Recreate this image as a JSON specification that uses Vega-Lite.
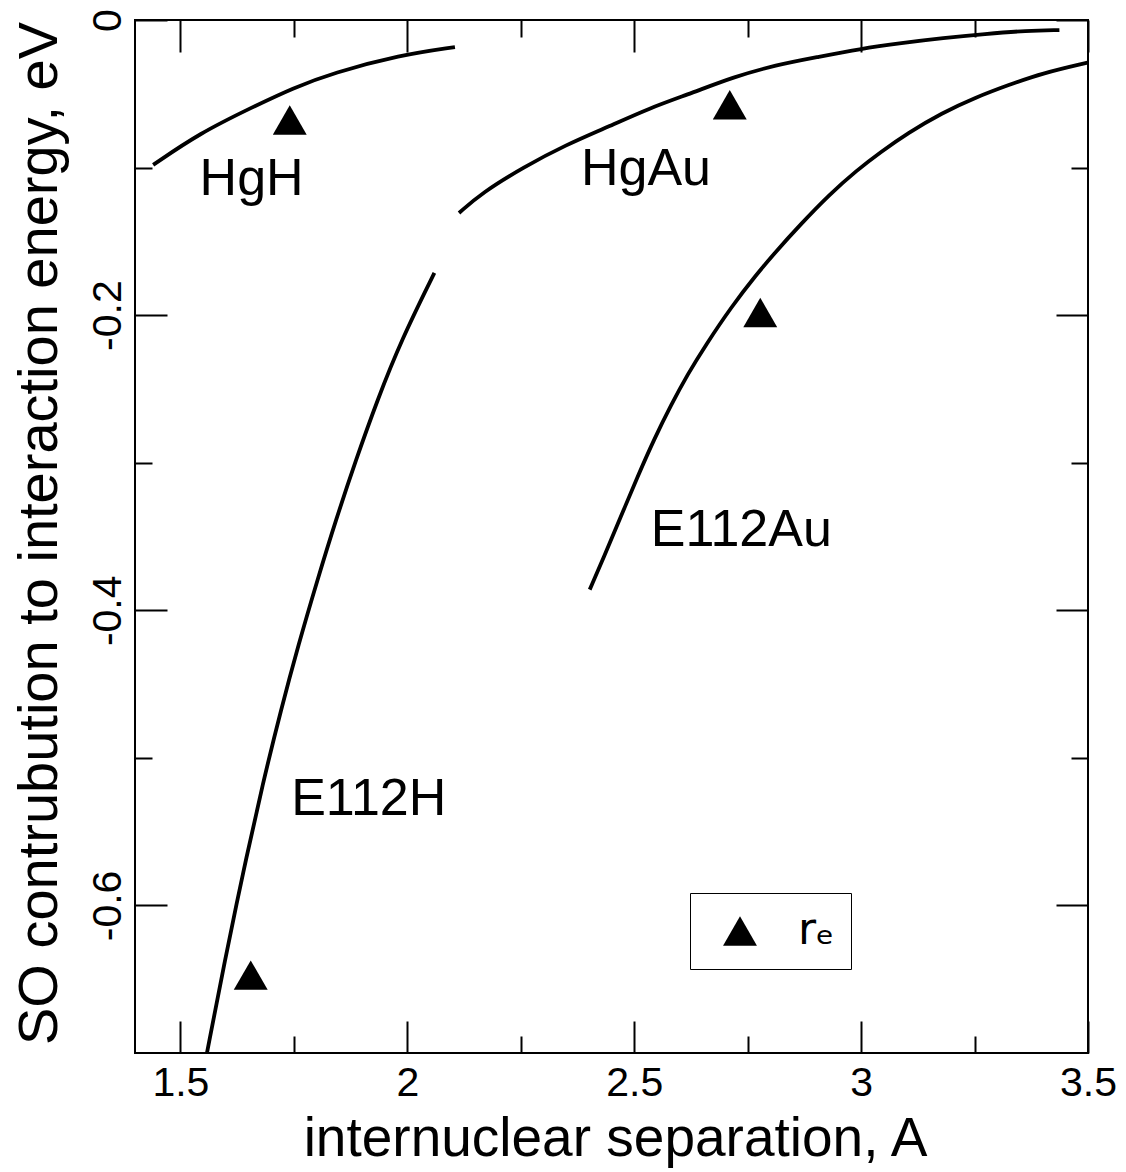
{
  "$schema": "https://vega.github.io/schema/vega-lite/v6.json",
  "width": 953,
  "height": 1033,
  "autosize": {"type": "none"},
  "padding": {"left": 135, "top": 20, "right": 38, "bottom": 119},
  "background": "white",
  "datasets": {
    "curves": [
      {"s": "HgH", "x": 1.440, "y": -0.0982},
      {"s": "HgH", "x": 1.543, "y": -0.0766},
      {"s": "HgH", "x": 1.660, "y": -0.0589},
      {"s": "HgH", "x": 1.748, "y": -0.0461},
      {"s": "HgH", "x": 1.836, "y": -0.0359},
      {"s": "HgH", "x": 1.984, "y": -0.0237},
      {"s": "HgH", "x": 2.105, "y": -0.0183},
      {"s": "HgAu", "x": 2.114, "y": -0.1308},
      {"s": "HgAu", "x": 2.164, "y": -0.1172},
      {"s": "HgAu", "x": 2.257, "y": -0.0996},
      {"s": "HgAu", "x": 2.349, "y": -0.0847},
      {"s": "HgAu", "x": 2.442, "y": -0.0725},
      {"s": "HgAu", "x": 2.534, "y": -0.0596},
      {"s": "HgAu", "x": 2.627, "y": -0.0495},
      {"s": "HgAu", "x": 2.719, "y": -0.0386},
      {"s": "HgAu", "x": 2.812, "y": -0.0305},
      {"s": "HgAu", "x": 2.904, "y": -0.0251},
      {"s": "HgAu", "x": 2.997, "y": -0.0196},
      {"s": "HgAu", "x": 3.089, "y": -0.0156},
      {"s": "HgAu", "x": 3.181, "y": -0.0122},
      {"s": "HgAu", "x": 3.273, "y": -0.0095},
      {"s": "HgAu", "x": 3.365, "y": -0.0072},
      {"s": "HgAu", "x": 3.437, "y": -0.0068},
      {"s": "E112H", "x": 1.5586, "y": -0.6999},
      {"s": "E112H", "x": 1.5982, "y": -0.6369},
      {"s": "E112H", "x": 1.6379, "y": -0.5779},
      {"s": "E112H", "x": 1.6819, "y": -0.5169},
      {"s": "E112H", "x": 1.7216, "y": -0.4675},
      {"s": "E112H", "x": 1.7601, "y": -0.4234},
      {"s": "E112H", "x": 1.8020, "y": -0.3794},
      {"s": "E112H", "x": 1.8427, "y": -0.3388},
      {"s": "E112H", "x": 1.8868, "y": -0.2981},
      {"s": "E112H", "x": 1.9341, "y": -0.2575},
      {"s": "E112H", "x": 1.9870, "y": -0.2168},
      {"s": "E112H", "x": 2.0597, "y": -0.1714},
      {"s": "E112Au", "x": 2.402, "y": -0.386},
      {"s": "E112Au", "x": 2.433, "y": -0.364},
      {"s": "E112Au", "x": 2.470, "y": -0.337},
      {"s": "E112Au", "x": 2.508, "y": -0.309},
      {"s": "E112Au", "x": 2.544, "y": -0.284},
      {"s": "E112Au", "x": 2.581, "y": -0.261},
      {"s": "E112Au", "x": 2.618, "y": -0.240},
      {"s": "E112Au", "x": 2.656, "y": -0.221},
      {"s": "E112Au", "x": 2.715, "y": -0.194},
      {"s": "E112Au", "x": 2.768, "y": -0.173},
      {"s": "E112Au", "x": 2.812, "y": -0.157},
      {"s": "E112Au", "x": 2.865, "y": -0.139},
      {"s": "E112Au", "x": 2.931, "y": -0.118},
      {"s": "E112Au", "x": 2.990, "y": -0.102},
      {"s": "E112Au", "x": 3.043, "y": -0.0895},
      {"s": "E112Au", "x": 3.103, "y": -0.0766},
      {"s": "E112Au", "x": 3.178, "y": -0.0630},
      {"s": "E112Au", "x": 3.252, "y": -0.0525},
      {"s": "E112Au", "x": 3.325, "y": -0.0440},
      {"s": "E112Au", "x": 3.400, "y": -0.0360},
      {"s": "E112Au", "x": 3.499, "y": -0.0289}
    ],
    "re": [
      {"s": "HgH", "x": 1.741, "y": -0.0678, "key": "rₑ"},
      {"s": "HgAu", "x": 2.7106, "y": -0.0574, "key": "rₑ"},
      {"s": "E112Au", "x": 2.7778, "y": -0.1982, "key": "rₑ"},
      {"s": "E112H", "x": 1.655, "y": -0.6472, "key": "rₑ"}
    ],
    "labelsHg": [
      {"label": "HgH", "x": 1.657, "y": -0.1186},
      {"label": "HgAu", "x": 2.526, "y": -0.1118}
    ],
    "labelsE": [
      {"label": "E112H", "x": 1.915, "y": -0.5386},
      {"label": "E112Au", "x": 2.736, "y": -0.3564}
    ]
  },
  "layer": [
    {
      "data": {"name": "curves"},
      "mark": {"type": "line", "color": "black", "strokeWidth": 3.8, "interpolate": "basis"},
      "encoding": {
        "x": {"field": "x", "type": "quantitative",
          "scale": {"domain": [1.4, 3.5], "nice": false, "zero": false},
          "axis": {"orient": "bottom", "values": [1.5, 2, 2.5, 3, 3.5], "tickSize": -32,
            "labelPadding": 42, "labelFontSize": 41, "labelExpr": "'' + datum.value",
            "labelFlush": false, "labelOverlap": false,
            "title": "internuclear separation, A", "titleFontSize": 55,
            "titleBaseline": "alphabetic", "titleX": 480, "titleY": 102}},
        "y": {"field": "y", "type": "quantitative",
          "scale": {"domain": [-0.7, 0], "nice": false, "zero": false},
          "axis": {"orient": "left", "values": [0, -0.2, -0.4, -0.6], "tickSize": -32,
            "labelAngle": -90, "labelAlign": "center", "labelBaseline": "alphabetic",
            "labelPadding": 47, "labelFontSize": 41, "labelExpr": "'' + datum.value",
            "labelFlush": false, "labelOverlap": false,
            "title": "SO contrubution to interaction energy, eV", "titleFontSize": 56,
            "titleAngle": -90, "titleBaseline": "alphabetic", "titleX": -79, "titleY": 513}},
        "detail": {"field": "s", "type": "nominal"}
      }
    },
    {
      "data": {"name": "re"},
      "mark": {"type": "point", "filled": true, "color": "black", "size": 1150, "opacity": 1},
      "encoding": {
        "x": {"field": "x", "type": "quantitative",
          "scale": {"domain": [1.4, 3.5], "nice": false, "zero": false},
          "axis": {"orient": "bottom", "values": [1.75, 2.25, 2.75, 3.25], "tickSize": -17, "labels": false, "title": null}},
        "y": {"field": "y", "type": "quantitative",
          "scale": {"domain": [-0.7, 0], "nice": false, "zero": false},
          "axis": {"orient": "left", "values": [-0.1, -0.3, -0.5], "tickSize": -17, "labels": false, "title": null}},
        "shape": {"field": "key", "type": "nominal",
          "scale": {"range": ["triangle-up"]},
          "legend": {"title": null, "orient": "none", "legendX": 555, "legendY": 873,
            "strokeColor": "black", "fillColor": "white", "padding": 16,
            "symbolSize": 1150, "symbolType": "triangle-up", "symbolFillColor": "black",
            "symbolStrokeWidth": 0, "symbolOffset": 12, "labelFontSize": 44, "labelOffset": 36,
            "labelColor": "black", "labelFont": "DejaVu Sans"}}
      }
    },
    {
      "data": {"name": "labelsHg"},
      "mark": {"type": "text", "fontSize": 52, "align": "center", "baseline": "alphabetic", "color": "black", "font": "Liberation Sans"},
      "encoding": {
        "x": {"field": "x", "type": "quantitative",
          "scale": {"domain": [1.4, 3.5], "nice": false, "zero": false},
          "axis": {"orient": "top", "values": [1.5, 2, 2.5, 3, 3.5], "tickSize": -32, "labels": false, "title": null}},
        "y": {"field": "y", "type": "quantitative",
          "scale": {"domain": [-0.7, 0], "nice": false, "zero": false},
          "axis": {"orient": "right", "values": [0, -0.2, -0.4, -0.6], "tickSize": -32, "labels": false, "title": null}},
        "text": {"field": "label", "type": "nominal"}
      }
    },
    {
      "data": {"name": "labelsE"},
      "mark": {"type": "text", "fontSize": 52, "align": "center", "baseline": "alphabetic", "color": "black", "font": "Liberation Sans"},
      "encoding": {
        "x": {"field": "x", "type": "quantitative",
          "scale": {"domain": [1.4, 3.5], "nice": false, "zero": false},
          "axis": {"orient": "top", "values": [1.75, 2.25, 2.75, 3.25], "tickSize": -17, "labels": false, "title": null}},
        "y": {"field": "y", "type": "quantitative",
          "scale": {"domain": [-0.7, 0], "nice": false, "zero": false},
          "axis": {"orient": "right", "values": [-0.1, -0.3, -0.5], "tickSize": -17, "labels": false, "title": null}},
        "text": {"field": "label", "type": "nominal"}
      }
    }
  ],
  "resolve": {"axis": {"x": "independent", "y": "independent"}},
  "config": {
    "view": {"stroke": "black", "strokeWidth": 2},
    "axis": {"grid": false, "domain": false, "ticks": true, "tickColor": "black", "tickWidth": 2,
      "labelColor": "black", "titleColor": "black", "labelFont": "Liberation Sans",
      "titleFont": "Liberation Sans", "titleFontWeight": "normal", "offset": 0}
  }
}
